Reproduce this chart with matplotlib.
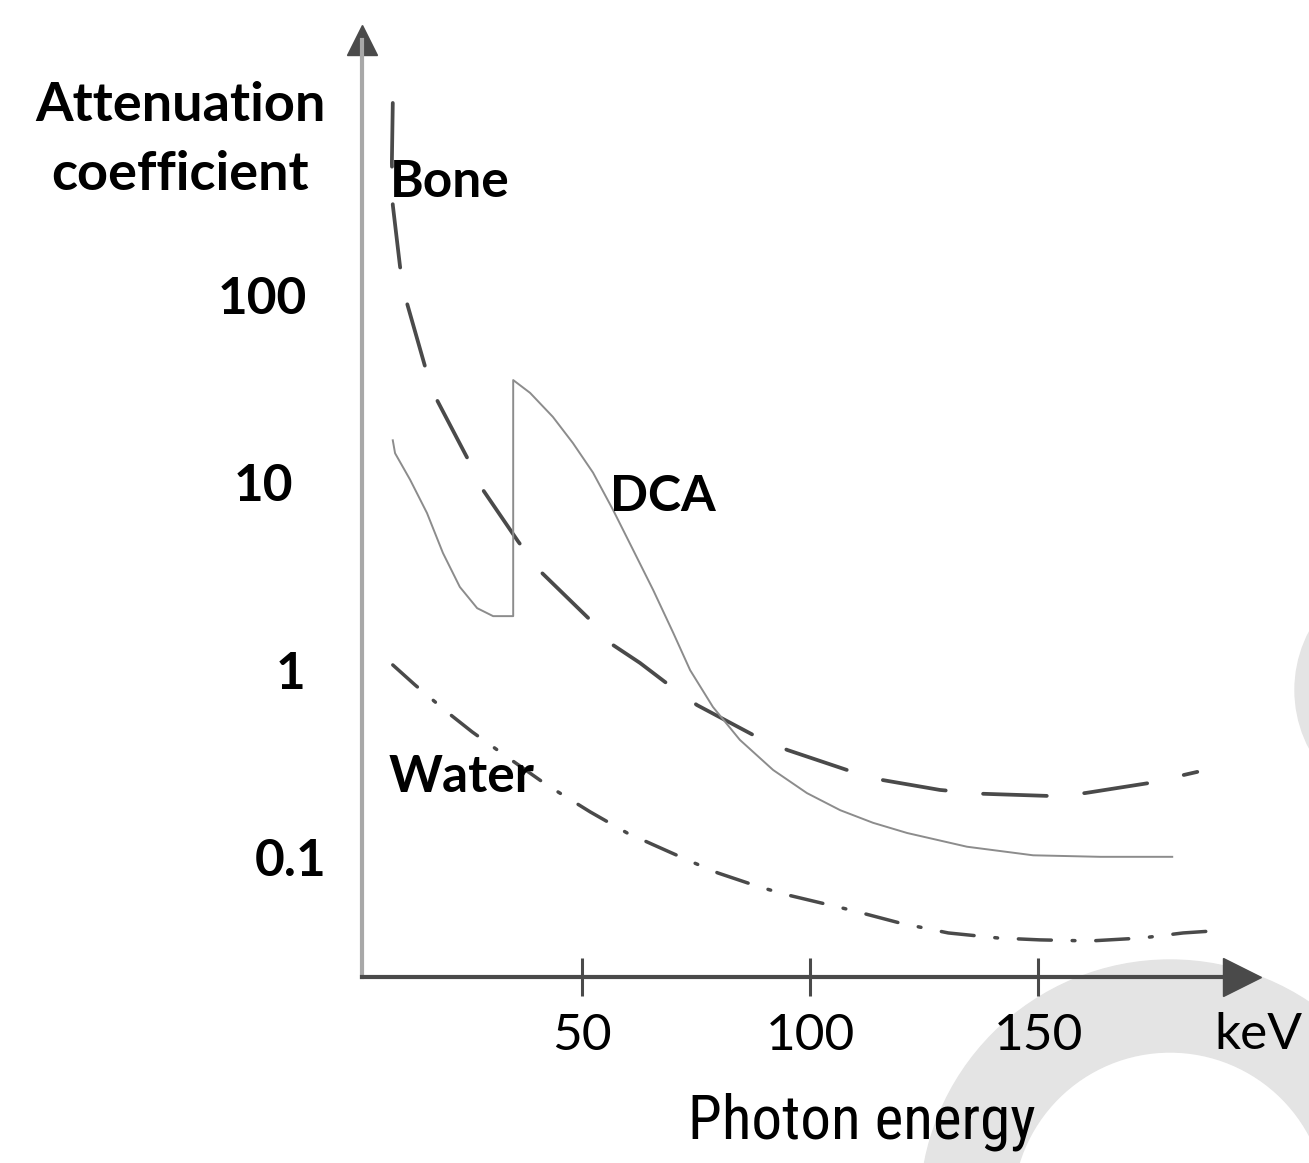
import numpy as np
import matplotlib.pyplot as plt
import matplotlib as mpl
from matplotlib.patches import Wedge
from matplotlib.ticker import NullLocator
from matplotlib.transforms import blended_transform_factory

W, H = 1309, 1163

# photon energy (keV) / attenuation coefficient
BONE_E = [8.5, 8.3, 8.5, 10.1, 11.6, 15.6, 18.2, 24.8, 28.3, 36.0, 41.2, 51.3, 56.8,
          62.7, 68.2, 75.2, 87.5, 95.0, 108.1, 116.0, 128.5, 137.9, 152.2, 160.3,
          174.1, 184.9]
BONE_MU = [1117, 535, 319, 149, 95.7, 43.6, 29.0, 14.3, 9.6, 5.1, 3.47, 2.0, 1.43,
           1.148, 0.908, 0.684, 0.474, 0.394, 0.308, 0.272, 0.241, 0.230, 0.224, 0.232,
           0.262, 0.301]

DCA_E = [8.5, 9.0, 12.3, 16.0, 19.5, 23.2, 27.0, 30.5, 34.9, 34.9, 38.6, 43.6, 48.0,
         52.4, 56.8, 61.2, 65.6, 70.0, 73.7, 78.7, 84.6, 91.9, 99.3, 106.6, 113.8,
         121.3, 134.4, 148.9, 163.6, 179.4]
DCA_MU = [17.7, 15.1, 10.9, 7.24, 4.43, 2.92, 2.25, 2.04, 2.04, 37.1, 31.7, 23.6, 17.1,
          11.9, 7.52, 4.60, 2.81, 1.66, 1.05, 0.668, 0.446, 0.308, 0.232, 0.188, 0.161,
          0.142, 0.120, 0.108, 0.106, 0.106]

WATER_E = [8.5, 13.4, 20.4, 25.9, 33.6, 42.3, 51.8, 59.9, 65.6, 74.1, 79.8, 89.0, 95.0,
           108.8, 119.7, 130.3, 141.2, 150.4, 161.4, 172.8, 181.8, 188.8]
WATER_MU = [1.12, 0.875, 0.628, 0.492, 0.361, 0.256, 0.184, 0.142, 0.123, 0.0995, 0.0869,
            0.0731, 0.0664, 0.0552, 0.0470, 0.0416, 0.0391, 0.0382, 0.0377, 0.0391,
            0.0416, 0.0427]

X_TICKS = [50, 100, 150]
Y_TICKS = [100, 10, 1, 0.1]
Y_TICK_LABELS = ['100', '10', '1', '0.1']

FONT = ['Lato', 'DejaVu Sans']
NARROW = ['DejaVu Sans Condensed', 'Liberation Sans Narrow', 'Roboto Condensed',
          'Liberation Sans']
C_DARK = '#4a4a4a'


def fx(px):
    return px / W


def fy(py):
    return 1 - py / H


fig = plt.figure(figsize=(W / 100, H / 100), dpi=100)
fig.patch.set_facecolor('white')

# axes box: from axis origin to the centres of the two arrow heads
ax = fig.add_axes([fx(362), fy(977), fx(1242) - fx(362), fy(40) - fy(977)])
ax.patch.set_alpha(0)
ax.set_yscale('log')
ax.set_xlim(1.75, 194.7)
ax.set_ylim(10 ** -1.616, 10 ** 3.384)

for s in ['top', 'right']:
    ax.spines[s].set_visible(False)
ax.spines['left'].set_color('#a8a8a8')
ax.spines['left'].set_linewidth(3)
ax.spines['bottom'].set_color(C_DARK)
ax.spines['bottom'].set_linewidth(3)

# arrow heads
ax.plot([0], [1], marker='^', ms=21, color=C_DARK, transform=ax.transAxes, clip_on=False)
ax.plot([1], [0], marker='>', ms=28, color=C_DARK, transform=ax.transAxes, clip_on=False)

# curves
ax.plot(BONE_E, BONE_MU, color=C_DARK, lw=2.7, ls=(0, (17, 10)), dash_capstyle='round')
ax.plot(DCA_E, DCA_MU, color='#8c8c8c', lw=1.4)
ax.plot(WATER_E, WATER_MU, color=C_DARK, lw=2.5, ls=(0, (9.5, 6, 0.8, 6)),
        dash_capstyle='round')

ax.text(7.9, 418, 'Bone', fontsize=37, fontweight='bold', family=FONT, va='center', ha='left')
ax.text(56.1, 8.83, 'DCA', fontsize=36, fontweight='bold', family=FONT, va='center', ha='left')
ax.text(7.5, 0.280, 'Water', fontsize=37, fontweight='bold', family=FONT, va='center', ha='left')

# x ticks
ax.set_xticks(X_TICKS)
ax.set_xticklabels([str(t) for t in X_TICKS], family=FONT, fontsize=37)
ax.tick_params(axis='x', direction='inout', length=28, width=2.2, color=C_DARK, pad=12)

# y labels (hand placed, no tick marks)
ax.set_yticks([])
ax.yaxis.set_minor_locator(NullLocator())
trans = blended_transform_factory(fig.transFigure, ax.transData)
for val, lab, right in zip(Y_TICKS, Y_TICK_LABELS, [307, 293, 305, 327]):
    ax.text(fx(right), val, lab, transform=trans, ha='right', va='center',
            fontsize=37, fontweight='bold', family=FONT)

fig.text(fx(180), fy(140), 'Attenuation\ncoefficient', ha='center', va='center',
         fontsize=39, fontweight='bold', family=FONT, linespacing=1.5)
fig.text(fx(1258), fy(1035), 'keV', ha='center', va='center', fontsize=37, family=FONT)
fig.text(fx(862), fy(1122), 'Photon energy', ha='center', va='center', fontsize=44,
         family=NARROW)

# light grey watermark arcs seen in the scan
inch = fig.dpi_scale_trans
fig.patches.append(Wedge((11.70, -0.47), 2.5, 0, 180, width=0.92, color='#e4e4e4',
                         transform=inch, zorder=-1))
fig.patches.append(Wedge((14.20, 4.73), 1.25, 90, 270, width=0.2, color='#e4e4e4',
                         transform=inch, zorder=-1))

fig.savefig('out.png', dpi=100)
